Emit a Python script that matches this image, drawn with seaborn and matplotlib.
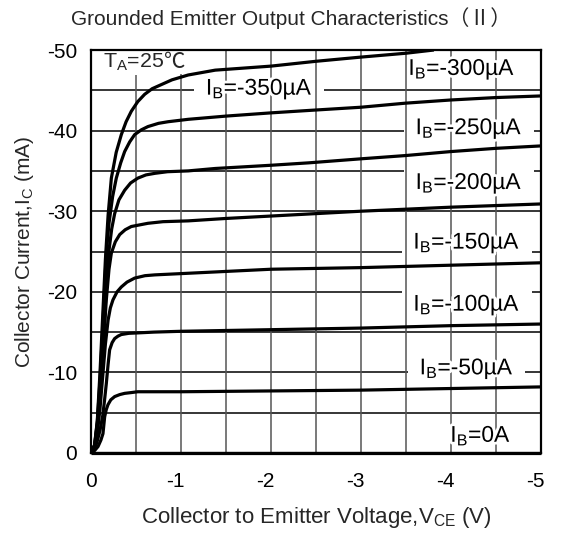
import numpy as np
import pandas as pd
import matplotlib
matplotlib.use("Agg")
import matplotlib.pyplot as plt
import matplotlib.transforms as mtransforms
import matplotlib.patheffects as pe
import seaborn as sns

# ---- data (magnitudes; plotted as negative values) ----
v_50 = [0, 0.04, 0.078, 0.11, 0.133, 0.152, 0.17, 0.189, 0.22, 0.263, 0.32, 0.374, 0.45, 0.52, 1.0, 2.0, 3.0, 4.0, 5.0]
i_50 = [0, 0.3, 0.8, 1.6, 2.4, 4.5, 5.4, 6.0, 6.6, 7.0, 7.25, 7.4, 7.5, 7.6, 7.6, 7.7, 7.8, 8.0, 8.2]

v_100 = [0, 0.04, 0.07, 0.10, 0.13, 0.15, 0.17, 0.19, 0.207, 0.235, 0.263, 0.30, 0.337, 0.42, 0.52, 0.7, 1.0, 2.0, 3.0, 4.0, 5.0]
i_100 = [0, 0.5, 1.5, 2.8, 4.6, 6.5, 8.6, 11.0, 12.8, 13.7, 14.2, 14.5, 14.7, 14.85, 14.9, 15.0, 15.1, 15.3, 15.5, 15.8, 16.0]

v_150 = [0, 0.04, 0.07, 0.10, 0.13, 0.16, 0.19, 0.215, 0.244, 0.29, 0.337, 0.40, 0.485, 0.6, 0.71, 1.08, 2.0, 3.0, 4.0, 5.0]
i_150 = [0, 0.7, 2.5, 5.5, 9.5, 13.5, 16.5, 18.0, 19.0, 20.0, 20.6, 21.2, 21.7, 22.0, 22.1, 22.3, 22.8, 23.0, 23.3, 23.6]

v_200 = [0, 0.04, 0.07, 0.10, 0.13, 0.17, 0.20, 0.226, 0.27, 0.319, 0.38, 0.448, 0.54, 0.633, 0.8, 1.08, 1.5, 2.0, 3.0, 4.0, 5.0]
i_200 = [0, 0.8, 3.0, 7.0, 12.0, 19.0, 22.8, 24.8, 26.2, 27.1, 27.7, 28.1, 28.3, 28.5, 28.7, 28.8, 29.1, 29.4, 30.0, 30.5, 30.9]

v_250 = [0, 0.04, 0.07, 0.10, 0.14, 0.196, 0.23, 0.263, 0.31, 0.374, 0.44, 0.52, 0.61, 0.71, 0.85, 1.08, 1.38, 2.0, 2.42, 3.0, 3.49, 4.0, 4.5, 5.0]
i_250 = [0, 0.9, 3.5, 8.0, 15.0, 24.8, 27.8, 29.7, 31.4, 32.6, 33.5, 34.1, 34.5, 34.7, 34.9, 35.0, 35.3, 35.7, 36.0, 36.5, 36.9, 37.4, 37.8, 38.1]

v_300 = [0, 0.04, 0.07, 0.10, 0.13, 0.17, 0.20, 0.24, 0.281, 0.33, 0.374, 0.43, 0.485, 0.56, 0.633, 0.75, 0.856, 1.08, 1.5, 2.0, 2.42, 3.0, 3.49, 4.0, 4.5, 5.0]
i_300 = [0, 1.0, 3.8, 9.0, 15.5, 24.8, 28.5, 31.8, 34.1, 36.0, 37.4, 38.6, 39.5, 40.1, 40.5, 40.9, 41.1, 41.4, 41.8, 42.2, 42.5, 42.9, 43.4, 43.8, 44.1, 44.3]

v_350 = [0, 0.04, 0.07, 0.10, 0.13, 0.16, 0.19, 0.226, 0.28, 0.337, 0.39, 0.448, 0.52, 0.596, 0.68, 0.78, 0.9, 1.08, 1.38, 2.0, 2.5, 2.98, 3.5, 3.81]
i_350 = [0, 1.0, 4.0, 10.0, 17.0, 24.0, 29.5, 34.1, 37.3, 39.5, 41.1, 42.4, 43.6, 44.5, 45.2, 45.7, 46.3, 46.9, 47.5, 48.0, 48.6, 49.1, 49.6, 50.0]

v_0 = [0, 5.0]
i_0 = [0, 0]

curves = [
    ("0A", v_0, i_0),
    ("-50µA", v_50, i_50),
    ("-100µA", v_100, i_100),
    ("-150µA", v_150, i_150),
    ("-200µA", v_200, i_200),
    ("-250µA", v_250, i_250),
    ("-300µA", v_300, i_300),
    ("-350µA", v_350, i_350),
]

x_ticks = [0, -1, -2, -3, -4, -5]
x_ticklabels = ["0", "-1", "-2", "-3", "-4", "-5"]
y_ticks = [0, -10, -20, -30, -40, -50]
y_ticklabels = ["0", "-10", "-20", "-30", "-40", "-50"]

# label positions (V, mA magnitudes)
lab_ib = ["-350µA", "-300µA", "-250µA", "-200µA", "-150µA", "-100µA", "-50µA", "0A"]
lab_x = [1.87, 4.12, 4.20, 4.20, 4.175, 4.175, 4.175, 4.33]
lab_y = [45.2, 47.65, 40.3, 33.5, 26.1, 18.4, 10.5, 2.2]

title = "Grounded Emitter Output Characteristics（Ⅱ）"
xlabel = "Collector to Emitter Voltage,V$_{\\mathregular{CE}}$ (V)"
ylabel = "Collector Current,I$_{\\mathregular{C}}$ (mA)"

# ---- build frame ----
rows = []
for name, vv, ii in curves:
    for a, b in zip(vv, ii):
        rows.append({"ib": name, "v": -a, "i": -b})
df = pd.DataFrame(rows)

sns.set_theme(style="white")
plt.rcParams["font.family"] = ["Liberation Sans", "Noto Sans CJK SC", "DejaVu Sans"]
plt.rcParams["mathtext.fontset"] = "custom"
plt.rcParams["mathtext.rm"] = "Liberation Sans"
plt.rcParams["mathtext.default"] = "regular"

fig = plt.figure(figsize=(5.63, 5.38), dpi=100)
ax = fig.add_axes([91/563, 1-453/538, 450/563, 403/538])

# grid: horizontal lines under the label boxes, vertical lines above them
for yv in np.arange(5, 50, 5):
    ax.axhline(-yv, color="black", lw=1.1, zorder=1)
for xv in np.arange(0.5, 5.0, 0.5):
    ax.axvline(-xv, color="#555555", lw=1.1, zorder=2.2)

for name, vv, ii in curves:
    sub = df[df["ib"] == name]
    sns.lineplot(data=sub, x="v", y="i", ax=ax, color="black", lw=2.3,
                 sort=False, estimator=None, zorder=3, clip_on=(name != "0A"),
                 solid_joinstyle="round", solid_capstyle="butt")

ax.set_xlim(0, -5)
ax.set_ylim(0, -50)
ax.set_xticks(x_ticks)
ax.set_xticklabels(x_ticklabels)
ax.set_yticks(y_ticks)
ax.set_yticklabels(y_ticklabels)
ax.tick_params(axis="both", length=0, labelsize=15, colors="black")
ax.tick_params(axis="x", pad=14)
ax.tick_params(axis="y", pad=10)
for lbl in ax.get_xticklabels()[1:]:
    lbl.set_transform(lbl.get_transform() + mtransforms.ScaledTranslation(-6/100, 0, fig.dpi_scale_trans))
for s in ax.spines.values():
    s.set_color("black")
    s.set_linewidth(1.6)
    s.set_visible(True)
    s.set_zorder(4)

ax.set_xlabel(xlabel, fontsize=16, labelpad=10)
ax.set_ylabel(ylabel, fontsize=15, labelpad=8)
fig.text(0.517, 0.967, title, fontsize=15, ha="center", va="center",
         family=["Liberation Sans", "Noto Sans CJK SC"])

halo = [pe.withStroke(linewidth=4, foreground="white")]
box = dict(boxstyle="square,pad=0.5", facecolor="white", edgecolor="none", mutation_aspect=0.15)
for t, xx, yy in zip(lab_ib, lab_x, lab_y):
    s = "I$_{\\mathregular{B}}$=" + t
    # white box (wide, low) that hides the horizontal grid line
    ax.text(-xx, -yy, s, fontsize=16.4, ha="center", va="center", color="none",
            bbox=box, zorder=2)
    # the label itself, with a thin white halo over the vertical grid lines
    ax.text(-xx, -yy, s, fontsize=16.4, ha="center", va="center", color="black",
            path_effects=halo, zorder=2.5)

tbox = dict(facecolor="white", edgecolor="none", pad=1)
ta = ax.text(-0.13, -47.75, "T$_{\\mathregular{A}}$=25", fontsize=15.4, ha="left", va="baseline",
             bbox=tbox, zorder=2.5)
ax.annotate("℃", xy=(1.0, -47.75), xycoords=(ta, "data"), fontsize=15.4,
            ha="left", va="baseline", family=["Noto Sans CJK SC", "DejaVu Sans"],
            bbox=tbox, zorder=2.5)

fig.savefig("out.png", dpi=100, facecolor="white")
